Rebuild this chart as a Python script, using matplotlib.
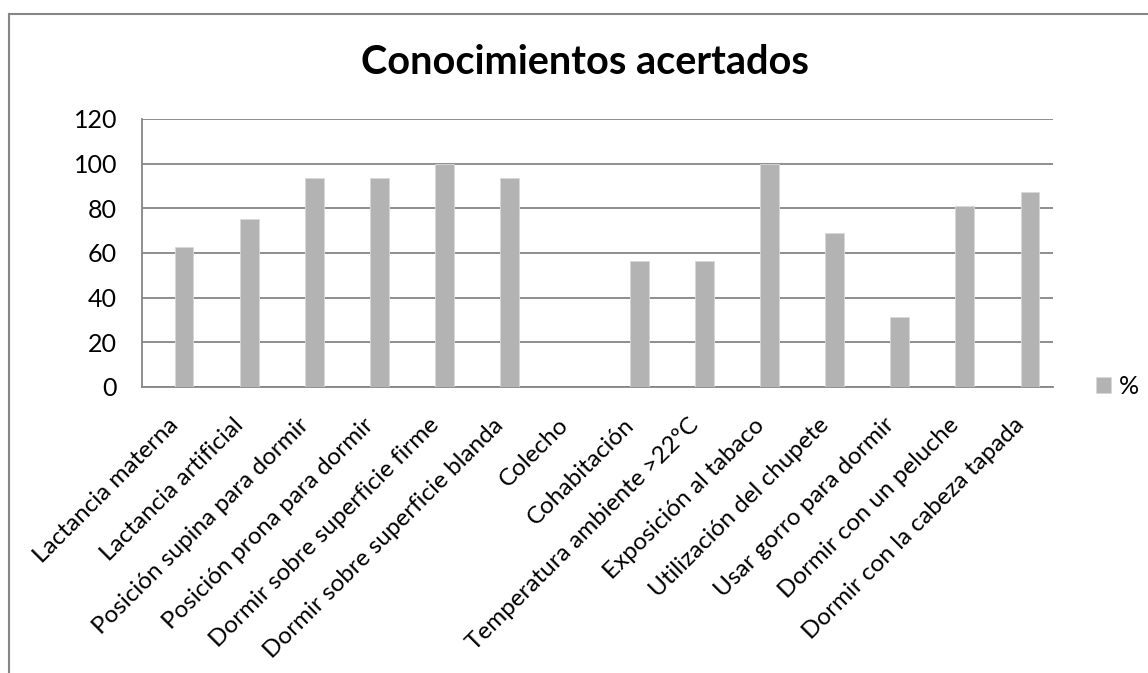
import matplotlib
matplotlib.use('agg')
import matplotlib.pyplot as plt
import matplotlib.transforms as mtransforms
from matplotlib.lines import Line2D

categories = ["Lactancia materna", "Lactancia artificial", "Posición supina para dormir",
              "Posición prona para dormir", "Dormir sobre superficie firme",
              "Dormir sobre superficie blanda", "Colecho", "Cohabitación",
              "Temperatura ambiente >22ºC", "Exposición al tabaco", "Utilización del chupete",
              "Usar gorro para dormir", "Dormir con un peluche", "Dormir con la cabeza tapada"]
values = [62.5, 75, 93.75, 93.75, 100, 93.75, 0, 56.25, 56.25, 100, 68.75, 31.25, 81.25, 87.5]
yticks = [0, 20, 40, 60, 80, 100, 120]

W, H = 1148, 673
plt.rcParams['font.family'] = ['Lato', 'DejaVu Sans']

fig = plt.figure(figsize=(W / 100, H / 100), dpi=100)
ax = fig.add_axes([142 / W, 1 - 387 / H, (1053 - 142) / W, (387 - 119) / H])

x = list(range(len(categories)))
# the bar sits just right of the category centre (as in the original sheet)
ax.bar([i + 0.146 for i in x], values, width=0.29, color='#b3b3b3', edgecolor='#d9d9d9',
       linewidth=0.6, label='%', zorder=3)

ax.set_xlim(-0.5, len(categories) - 0.5)
ax.set_ylim(0, 120)
ax.set_yticks(yticks)
ax.yaxis.grid(True, color='#868686', linewidth=1.3, zorder=0)
ax.set_xticks(x)
ax.set_xticklabels(categories, rotation=45, ha='right', va='top', rotation_mode='anchor')
ax.tick_params(axis='both', length=0, colors='black')
ax.tick_params(axis='y', pad=18, labelsize=18)
ax.tick_params(axis='x', pad=16, labelsize=17.5)

# nudge the slanted labels a little down-left
shift = mtransforms.ScaledTranslation(-7 / 100, -5 / 100, fig.dpi_scale_trans)
for lbl in ax.get_xticklabels():
    lbl.set_transform(lbl.get_transform() + shift)

for side in ['top', 'right']:
    ax.spines[side].set_visible(False)
for side in ['left', 'bottom']:
    ax.spines[side].set_color('#868686')
    ax.spines[side].set_linewidth(1.3)

fig.text(585 / W, 1 - 74 / H, "Conocimientos acertados", ha='center', va='baseline',
         fontsize=28.5, fontweight='bold')

ax.legend(loc='center left', bbox_to_anchor=(1096 / W, 1 - 386 / H), bbox_transform=fig.transFigure,
          frameon=False, borderaxespad=0, borderpad=0, handlelength=0.6, handleheight=0.6,
          handletextpad=0.3, fontsize=18)

# chart frame (only top and left edges are visible)
fig.add_artist(Line2D([8.5 / W, 8.5 / W], [0, 1 - 13.5 / H], color='#868686', linewidth=1.5))
fig.add_artist(Line2D([8.5 / W, 1], [1 - 13.5 / H, 1 - 13.5 / H], color='#868686', linewidth=1.5))

fig.savefig('out.png', dpi=100)
